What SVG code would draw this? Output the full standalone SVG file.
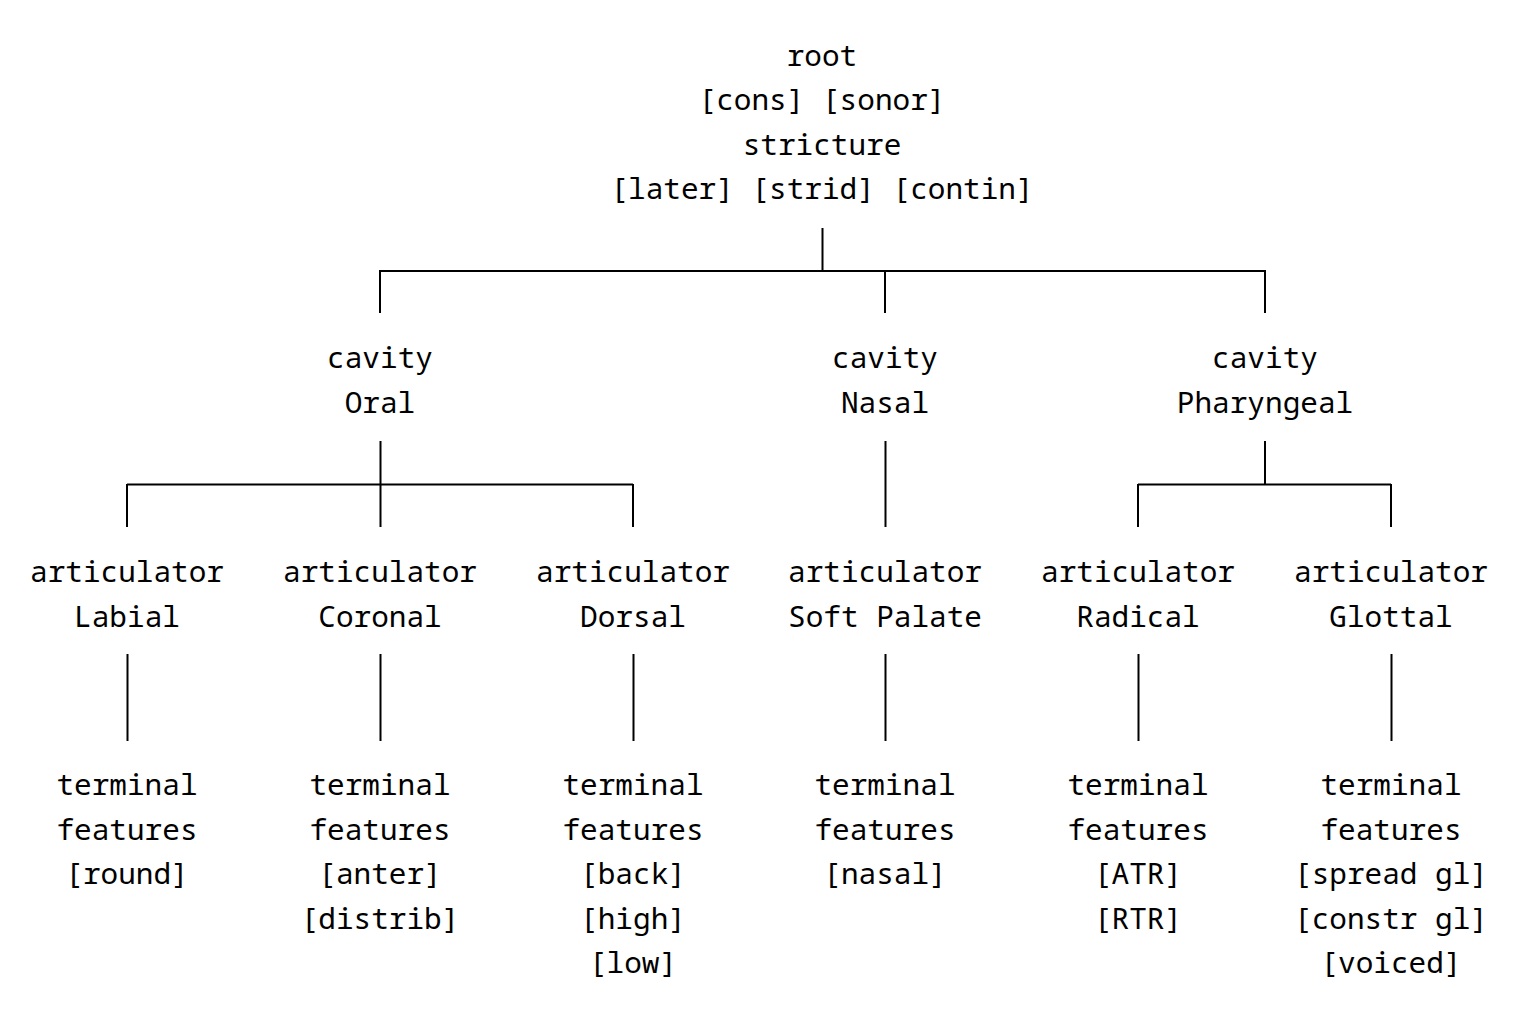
<svg xmlns="http://www.w3.org/2000/svg" width="1519" height="1010" viewBox="0 0 1519 1010">
<style>
text{font-family:"Noto Sans Mono","DejaVu Sans Mono","Liberation Mono",monospace;font-size:29.4px;fill:#000;text-anchor:middle}
.e{stroke:#000;stroke-width:2;fill:none}
</style>
<rect width="1519" height="1010" fill="#fff"/>
<g id="connectors">
<path class="e" d="M822.5 228V271M380 271H1265M380 270V313M885 270V313M1265 270V313"/>
<path class="e" d="M380.5 441V527M127 484.5H633M127 484V527M633 484V527"/>
<path class="e" d="M885.5 441V527"/>
<path class="e" d="M1265 441V485M1138 484.5H1391M1138 484V527M1391 484V527"/>
<path class="e" d="M127.5 654V741M380.5 654V741M633.5 654V741M885.5 654V741M1138.5 654V741M1391.5 654V741"/>
</g>
<g id="root"><text x="822" y="65.5">root</text><text x="822" y="110">[cons] [sonor]</text><text x="822" y="154.5">stricture</text><text x="822" y="199">[later] [strid] [contin]</text></g>
<g id="oral"><text x="380" y="368">cavity</text><text x="380" y="412.5">Oral</text></g>
<g id="nasal"><text x="885" y="368">cavity</text><text x="885" y="412.5">Nasal</text></g>
<g id="pharyngeal"><text x="1265" y="368">cavity</text><text x="1265" y="412.5">Pharyngeal</text></g>
<g id="labial"><text x="127" y="582">articulator</text><text x="127" y="626.5">Labial</text></g>
<g id="coronal"><text x="380" y="582">articulator</text><text x="380" y="626.5">Coronal</text></g>
<g id="dorsal"><text x="633" y="582">articulator</text><text x="633" y="626.5">Dorsal</text></g>
<g id="softpalate"><text x="885" y="582">articulator</text><text x="885" y="626.5">Soft Palate</text></g>
<g id="radical"><text x="1138" y="582">articulator</text><text x="1138" y="626.5">Radical</text></g>
<g id="glottal"><text x="1391" y="582">articulator</text><text x="1391" y="626.5">Glottal</text></g>
<g id="t-labial"><text x="127" y="795">terminal</text><text x="127" y="839.5">features</text><text x="127" y="884">[round]</text></g>
<g id="t-coronal"><text x="380" y="795">terminal</text><text x="380" y="839.5">features</text><text x="380" y="884">[anter]</text><text x="380" y="928.5">[distrib]</text></g>
<g id="t-dorsal"><text x="633" y="795">terminal</text><text x="633" y="839.5">features</text><text x="633" y="884">[back]</text><text x="633" y="928.5">[high]</text><text x="633" y="973">[low]</text></g>
<g id="t-softpalate"><text x="885" y="795">terminal</text><text x="885" y="839.5">features</text><text x="885" y="884">[nasal]</text></g>
<g id="t-radical"><text x="1138" y="795">terminal</text><text x="1138" y="839.5">features</text><text x="1138" y="884">[ATR]</text><text x="1138" y="928.5">[RTR]</text></g>
<g id="t-glottal"><text x="1391" y="795">terminal</text><text x="1391" y="839.5">features</text><text x="1391" y="884">[spread gl]</text><text x="1391" y="928.5">[constr gl]</text><text x="1391" y="973">[voiced]</text></g>
</svg>
